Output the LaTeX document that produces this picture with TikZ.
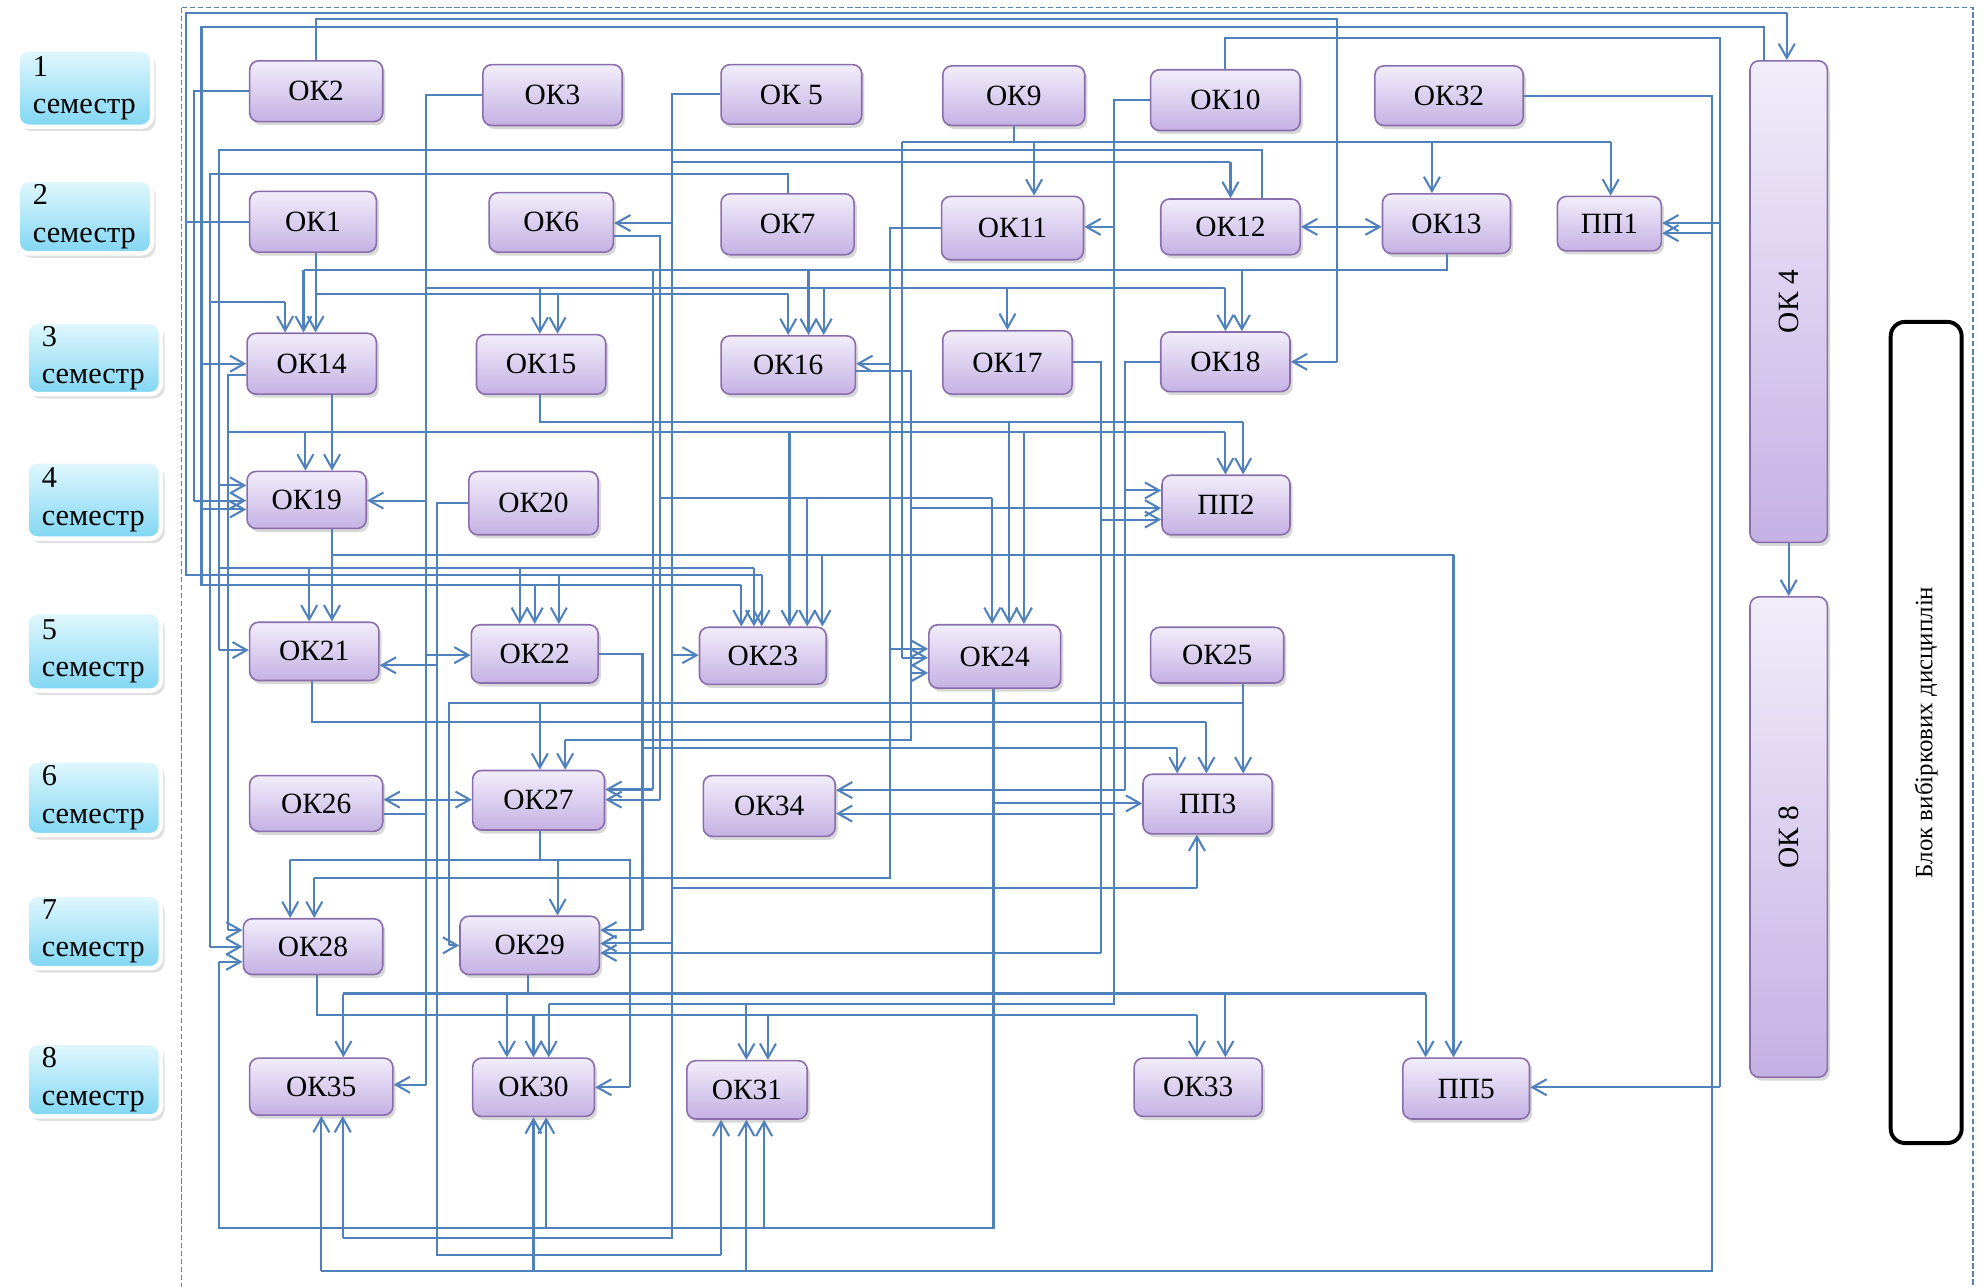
\documentclass[tikz,border=0pt]{standalone}
\usepackage{fontspec}
\usepackage{graphicx}
\setmainfont{Liberation Serif}
\usetikzlibrary{arrows.meta,shadows}
\pgfdeclarelayer{bgfill}
\pgfdeclarelayer{background}
\pgfsetlayers{bgfill,background,main}
\definecolor{lc}{RGB}{79,129,189}
\definecolor{oktop}{RGB}{242,237,250}
\definecolor{okbot}{RGB}{197,177,228}
\definecolor{okbd}{RGB}{138,110,172}
\definecolor{semtop}{RGB}{226,248,253}
\definecolor{sembot}{RGB}{128,214,243}
\newcommand\mkbox[6]{\node[okb,minimum width={(#4-#2)*0.025cm},minimum height={(#5-#3)*0.025cm}] (#1) at ({(#2+#4)/2},{(#3+#5)/2}) {#6};}
\newcommand\mksem[6]{\node[semb,minimum width={(#4-#2)*0.025cm},minimum height={(#5-#3)*0.025cm},text width={(#4-#2-24)*0.025cm}] (#1) at ({(#2+#4)/2},{(#3+#5)/2}) {#6\\семестр};}
\tikzset{
  okb/.style={rectangle,rounded corners=5pt,draw=okbd,line width=0.9pt,top color=oktop,bottom color=okbot,
    drop shadow={opacity=0.3,shadow xshift=1.5pt,shadow yshift=-2pt},inner sep=0pt,font=\fontsize{16.5}{19}\selectfont},
  semb/.style={rectangle,rounded corners=6pt,draw=white,line width=2.5pt,top color=semtop,bottom color=sembot,
    drop shadow={opacity=0.25,shadow xshift=2pt,shadow yshift=-2.5pt},align=left,inner xsep=0.3cm,inner ysep=0pt,
    font=\fontsize{17}{21}\selectfont},
  ln/.style={draw=lc,line width=1.15pt},
  >={Straight Barb[length=8pt,width=9pt]},
  ar/.style={ln,->},
  dar/.style={ln,<->}
}
\begin{document}
\begin{tikzpicture}[x=0.025cm,y=-0.025cm]
\begin{pgfonlayer}{bgfill}
\fill[white] (0,0) rectangle (1568,1015);
\end{pgfonlayer}
\useasboundingbox (0,0) rectangle (1568,1015);

% semester labels
\mksem{S1}{14}{39}{120}{100}{1}
\mksem{S2}{14}{142}{120}{200}{2}
\mksem{S3}{21}{254}{127}{311}{3}
\mksem{S4}{21}{364}{127}{425}{4}
\mksem{S5}{21}{483}{127}{545}{5}
\mksem{S6}{21}{600}{127}{659}{6}
\mksem{S7}{21}{706}{127}{764}{7}
\mksem{S8}{21}{823}{127}{881}{8}

% ---------------- boxes ----------------
\mkbox{OK2}{197}{48}{302}{96}{ОК2}
\mkbox{OK3}{381}{51}{491}{99}{ОК3}
\mkbox{OK5}{569}{51}{680}{98}{ОК 5}
\mkbox{OK9}{744}{52}{856}{99}{ОК9}
\mkbox{OK10}{908}{55}{1026}{103}{ОК10}
\mkbox{OK32}{1085}{52}{1202}{99}{ОК32}
\mkbox{OK1}{197}{151}{297}{199}{ОК1}
\mkbox{OK6}{386}{152}{484}{199}{ОК6}
\mkbox{OK7}{569}{153}{674}{201}{ОК7}
\mkbox{OK11}{743}{155}{855}{205}{ОК11}
\mkbox{OK12}{916}{157}{1026}{201}{ОК12}
\mkbox{OK13}{1091}{153}{1192}{200}{ОК13}
\mkbox{PP1}{1229}{155}{1311}{198}{ПП1}
\mkbox{OK14}{195}{263}{297}{311}{ОК14}
\mkbox{OK15}{376}{264}{478}{311}{ОК15}
\mkbox{OK16}{569}{265}{675}{311}{ОК16}
\mkbox{OK17}{744}{261}{846}{311}{ОК17}
\mkbox{OK18}{916}{262}{1018}{309}{ОК18}
\mkbox{OK19}{195}{372}{289}{417}{ОК19}
\mkbox{OK20}{370}{372}{472}{422}{ОК20}
\mkbox{PP2}{917}{375}{1018}{422}{ПП2}
\mkbox{OK21}{197}{491}{299}{537}{ОК21}
\mkbox{OK22}{372}{493}{472}{539}{ОК22}
\mkbox{OK23}{552}{495}{652}{540}{ОК23}
\mkbox{OK24}{733}{493}{837}{543}{ОК24}
\mkbox{OK25}{908}{495}{1013}{539}{ОК25}
\mkbox{OK26}{197}{612}{302}{656}{ОК26}
\mkbox{OK27}{373}{608}{477}{655}{ОК27}
\mkbox{OK34}{555}{612}{659}{660}{ОК34}
\mkbox{PP3}{902}{611}{1004}{658}{ПП3}
\mkbox{OK28}{192}{725}{302}{769}{ОК28}
\mkbox{OK29}{363}{723}{473}{769}{ОК29}
\mkbox{OK35}{197}{835}{310}{880}{ОК35}
\mkbox{OK30}{373}{835}{469}{881}{ОК30}
\mkbox{OK31}{542}{837}{637}{883}{ОК31}
\mkbox{OK33}{895}{835}{996}{881}{ОК33}
\mkbox{PP5}{1107}{835}{1207}{883}{ПП5}
\mkbox{OK4}{1381}{48}{1442}{428}{\rotatebox{90}{ОК 4}}
\mkbox{OK8}{1381}{471}{1442}{850}{\rotatebox{90}{ОК 8}}
\node[draw=black,line width=2.2pt,rounded corners=8pt,fill=white,inner sep=0pt,
  minimum width={56*0.025cm},minimum height={648*0.025cm},font=\fontsize{14}{16}\selectfont]
  (BL) at (1520,578) {\rotatebox{90}{Блок вибіркових дисциплін}};

\begin{pgfonlayer}{background}
\draw[lc!80!gray,dash pattern=on 3pt off 1.5pt,line width=0.7pt] (143,6) rectangle (1557,1040);
% ---------------- connectors ----------------
\draw[ln] (OK1.west) -- (147,175) -- (147,10) -- (1410,10);
\draw[ln] (147,175) -- (147,454) -- (601,454);
\draw[ln] (OK2.west) -- (153,72) -- (153,395);
\draw[ln] (OK2.north) -- (249.5,15) -- (1055,15) -- (1055,285.5);
\draw[ln] (1392,0 |- OK4.north) -- (1392,21) -- (159,21) -- (159,462) -- (585,462);
\draw[ln] (OK7.north) -- (621.5,137) -- (166,137) -- (166,747);
\draw[ln] (166,238) -- (225,238);
\draw[ln] (996,0 |- OK12.north) -- (996,118) -- (173,118) -- (173,513);
\draw[ln] (173,448) -- (595,448);
\draw[ln] (OK14.west |- 0,296) -- (180,296) -- (180,734);
\draw[ln] (180,341) -- (967,341);
\draw[ln] (262,438) -- (1147,438);
\draw[ln] (OK3.west) -- (336,75) -- (336,856);
\draw[ln] (336,227) -- (967,227);
\draw[ln] (OK26.east |- 0,642) -- (336,642);
\draw[ln] (249,232) -- (622,232);
\draw[ln] (1142,0 |- OK13.south) -- (1142,213) -- (239.5,213);
\draw[ln] (515,213) -- (515,623);
\draw[ln] (OK9.south) -- (800,112);
\draw[ln] (712,112) -- (1271,112);
\draw[ln] (712,112) -- (712,519);
\draw[ln] (OK10.west) -- (879,79) -- (879,792) -- (433,792);
\draw[ln] (967,0 |- OK10.north) -- (967,30) -- (1357,30) -- (1357,858);
\draw[ln] (OK32.east) -- (1351,75.5) -- (1351,1003) -- (253.6,1003);
\draw[ln] (OK11.west) -- (702,180) -- (702,693) -- (248,693);
\draw[ln] (OK5.west) -- (530,74.5) -- (530,977) -- (270.5,977);
\draw[ln] (530,128) -- (971,128);
\draw[ln] (530,701) -- (944.5,701);
\draw[ln] (OK6.east |- 0,186) -- (521,186) -- (521,631);
\draw[ln] (521,393) -- (783,393);
\draw[ln] (OK22.east) -- (507,516) -- (507,734);
\draw[ln] (507,590) -- (929,590);
\draw[ln] (OK20.west) -- (345,397) -- (345,990) -- (569,990);
\draw[ln] (981,555) -- (354,555) -- (354,746);
\draw[ln] (246,0 |- OK21.south) -- (246,570) -- (952,570);
\draw[ln] (426,0 |- OK27.south) -- (426,679);
\draw[ln] (229,679) -- (497,679) -- (497,858);
\draw[ln] (250,0 |- OK28.south) -- (250,801) -- (944.5,801);
\draw[ln] (417,0 |- OK29.south) -- (417,784);
\draw[ln] (271,784) -- (1125,784);
\draw[ln] (784,0 |- OK24.south) -- (784,969) -- (173,969) -- (173,759);
\draw[ln] (OK18.west) -- (888,285.5) -- (888,623.5);
\draw[ln] (OK17.east) -- (869,286) -- (869,752);
\draw[ln] (OK16.east |- 0,292.5) -- (719,292.5) -- (719,584) -- (446,584);
\draw[ln] (426,0 |- OK15.south) -- (426,333) -- (981,333);

% ---------------- arrows ----------------
\draw[ar] (1410,10) -- (1410,0 |- OK4.north);
\draw[ar] (441,454) -- (441,0 |- OK22.north);
\draw[ar] (601,454) -- (601,0 |- OK23.north);
\draw[ar] (153,395) -- (OK19.west |- 0,395);
\draw[ar] (1055,285.5) -- (OK18.east);
\draw[ar] (159,287) -- (OK14.west |- 0,287);
\draw[ar] (159,402) -- (OK19.west |- 0,402);
\draw[ar] (422,462) -- (422,0 |- OK22.north);
\draw[ar] (585,462) -- (585,0 |- OK23.north);
\draw[ar] (225,238) -- (225,0 |- OK14.north);
\draw[ar] (166,747) -- (OK28.west |- 0,747);
\draw[ar] (173,383) -- (OK19.west |- 0,383);
\draw[ar] (244,448) -- (244,0 |- OK21.north);
\draw[ar] (410,448) -- (410,0 |- OK22.north);
\draw[ar] (595,448) -- (595,0 |- OK23.north);
\draw[ar] (173,513) -- (OK21.west |- 0,513);
\draw[ar] (241,341) -- (241,0 |- OK19.north);
\draw[ar] (623,341) -- (623,0 |- OK23.north);
\draw[ar] (808,341) -- (808,0 |- OK24.north);
\draw[ar] (967,341) -- (967,0 |- PP2.north);
\draw[ar] (180,734) -- (OK28.west |- 0,734);
\draw[ar] (262,0 |- OK14.south) -- (262,0 |- OK19.north);
\draw[ar] (262,0 |- OK19.south) -- (262,0 |- OK21.north);
\draw[ar] (649,438) -- (649,0 |- OK23.north);
\draw[ar] (1147,438) -- (1147,0 |- PP5.north);
\draw[ar] (426,227) -- (426,0 |- OK15.north);
\draw[ar] (650,227) -- (650,0 |- OK16.north);
\draw[ar] (795,227) -- (795,0 |- OK17.north);
\draw[ar] (967,227) -- (967,0 |- OK18.north);
\draw[ar] (336,395) -- (OK19.east |- 0,395);
\draw[ar] (336,517) -- (OK22.west |- 0,517);
\draw[ar] (336,856) -- (OK35.east |- 0,856);
\draw[ar] (249,0 |- OK1.south) -- (249,0 |- OK14.north);
\draw[ar] (440,232) -- (440,0 |- OK15.north);
\draw[ar] (622,232) -- (622,0 |- OK16.north);
\draw[ar] (980,213) -- (980,0 |- OK18.north);
\draw[ar] (638,213) -- (638,0 |- OK16.north);
\draw[ar] (239.5,213) -- (239.5,0 |- OK14.north);
\draw[ar] (515,623) -- (OK27.east |- 0,623);
\draw[ar] (816,112) -- (816,0 |- OK11.north);
\draw[ar] (1130,112) -- (1130,0 |- OK13.north);
\draw[ar] (1271,112) -- (1271,0 |- PP1.north);
\draw[ar] (712,519) -- (OK24.west |- 0,519);
\draw[ar] (879,179) -- (OK11.east |- 0,179);
\draw[ar] (879,642) -- (OK34.east |- 0,642);
\draw[ar] (589,792) -- (589,0 |- OK31.north);
\draw[ar] (433,792) -- (433,0 |- OK30.north);
\draw[ar] (1357,176) -- (PP1.east |- 0,176);
\draw[ar] (1357,858) -- (PP5.east |- 0,858);
\draw[ar] (1351,184) -- (PP1.east |- 0,184);
\draw[ar] (253.6,1003) -- (253.6,0 |- OK35.south);
\draw[ar] (421,1003) -- (421,0 |- OK30.south);
\draw[ar] (589,1003) -- (589,0 |- OK31.south);
\draw[dar] (OK12.east |- 0,179) -- (OK13.west |- 0,179);
\draw[ar] (702,287) -- (OK16.east |- 0,287);
\draw[ar] (702,512) -- (OK24.west |- 0,512);
\draw[ar] (248,693) -- (248,0 |- OK28.north);
\draw[ar] (971,128) -- (971,0 |- OK12.north);
\draw[ar] (530,176) -- (OK6.east |- 0,176);
\draw[ar] (530,517) -- (OK23.west |- 0,517);
\draw[ar] (944.5,701) -- (944.5,0 |- PP3.south);
\draw[ar] (530,744.5) -- (OK29.east |- 0,744.5);
\draw[ar] (270.5,977) -- (270.5,0 |- OK35.south);
\draw[ar] (637,393) -- (637,0 |- OK23.north);
\draw[ar] (783,393) -- (783,0 |- OK24.north);
\draw[ar] (521,631) -- (OK27.east |- 0,631);
\draw[ar] (929,590) -- (929,0 |- PP3.north);
\draw[ar] (507,734) -- (OK29.east |- 0,734);
\draw[ar] (345,525) -- (OK21.east |- 0,525);
\draw[ar] (345,631) -- (OK26.east |- 0,631);
\draw[ar] (345,631) -- (OK27.west |- 0,631);
\draw[ar] (569,990) -- (569,0 |- OK31.south);
\draw[ar] (981,0 |- OK25.south) -- (981,0 |- PP3.north);
\draw[ar] (354,746) -- (OK29.west |- 0,746);
\draw[ar] (426,555) -- (426,0 |- OK27.north);
\draw[ar] (952,570) -- (952,0 |- PP3.north);
\draw[ar] (229,679) -- (229,0 |- OK28.north);
\draw[ar] (440,679) -- (440,0 |- OK29.north);
\draw[ar] (497,858) -- (OK30.east |- 0,858);
\draw[ar] (421,801) -- (421,0 |- OK30.north);
\draw[ar] (606,801) -- (606,0 |- OK31.north);
\draw[ar] (944.5,801) -- (944.5,0 |- OK33.north);
\draw[ar] (271,784) -- (271,0 |- OK35.north);
\draw[ar] (400,784) -- (400,0 |- OK30.north);
\draw[ar] (967,784) -- (967,0 |- OK33.north);
\draw[ar] (1125,784) -- (1125,0 |- PP5.north);
\draw[ar] (784,634) -- (PP3.west |- 0,634);
\draw[ar] (603,969) -- (603,0 |- OK31.south);
\draw[ar] (431,969) -- (431,0 |- OK30.south);
\draw[ar] (173,759) -- (OK28.west |- 0,759);
\draw[ar] (888,387) -- (PP2.west |- 0,387);
\draw[ar] (888,623.5) -- (OK34.east |- 0,623.5);
\draw[ar] (869,410) -- (PP2.west |- 0,410);
\draw[ar] (869,752) -- (OK29.east |- 0,752);
\draw[ar] (719,401) -- (PP2.west |- 0,401);
\draw[ar] (719,531) -- (OK24.west |- 0,531);
\draw[ar] (446,584) -- (446,0 |- OK27.north);
\draw[ar] (796.5,333) -- (796.5,0 |- OK24.north);
\draw[ar] (981,333) -- (981,0 |- PP2.north);
\draw[ar] (OK4.south) -- (OK8.north);
\end{pgfonlayer}
\end{tikzpicture}
\end{document}
